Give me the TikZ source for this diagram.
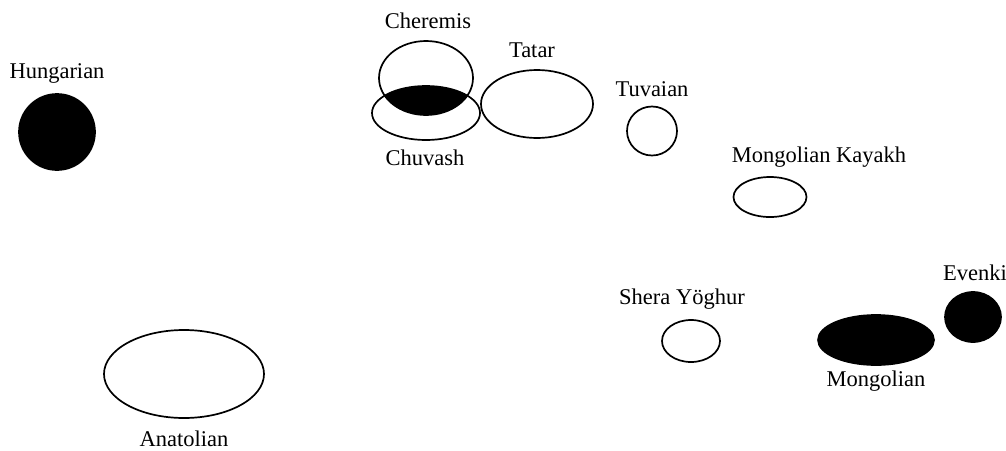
\documentclass[tikz,border=0pt]{standalone}
\usepackage{fontspec}
\setmainfont{Liberation Serif}
\usetikzlibrary{shapes.geometric}
\begin{document}
\begin{tikzpicture}[x=1pt,y=-1pt,
  oval/.style={draw=black,line width=1.7pt,ellipse,inner sep=0pt,outer sep=0pt},
  solidoval/.style={oval,fill=black},
  lbl/.style={font=\fontsize{22.5}{26}\selectfont,inner sep=0pt}]
\useasboundingbox (0,0) rectangle (1006,450);
% intersection fill
\begin{scope}
  \clip (426,78) ellipse [x radius=47, y radius=37];
  \fill[black] (426,113) ellipse [x radius=54, y radius=27];
\end{scope}
\node[solidoval,minimum width=76,minimum height=76] (hun) at (57,132) {};
\node[oval,minimum width=94,minimum height=74] (che) at (426,78) {};
\node[oval,minimum width=108,minimum height=54] (chu) at (426,113) {};
\node[oval,minimum width=112,minimum height=68] (tat) at (537,104) {};
\node[oval,minimum width=50,minimum height=49] (tuv) at (652,131) {};
\node[oval,minimum width=73,minimum height=40] (mk) at (770,197) {};
\node[oval,minimum width=58,minimum height=42] (shy) at (691,341) {};
\node[solidoval,minimum width=116,minimum height=50] (mon) at (876,340) {};
\node[solidoval,minimum width=56,minimum height=50] (eve) at (973,317) {};
\node[oval,minimum width=160,minimum height=88] (ana) at (184,374) {};
% labels
\node[lbl] (lhun) at (57,73) {Hungarian};
\node[lbl] (lche) at (428,21) {Cheremis};
\node[lbl] (lchu) at (425,158) {Chuvash};
\node[lbl] (ltat) at (532,50) {Tatar};
\node[lbl] (ltuv) at (652,89) {Tuvaian};
\node[lbl] (lmk) at (819,157) {Mongolian Kayakh};
\node[lbl] (lshy) at (682,299) {Shera Y\"oghur};
\node[lbl] (lmon) at (876,381) {Mongolian};
\node[lbl] (leve) at (975,273) {Evenki};
\node[lbl] (lana) at (184,439) {Anatolian};
\end{tikzpicture}
\end{document}
